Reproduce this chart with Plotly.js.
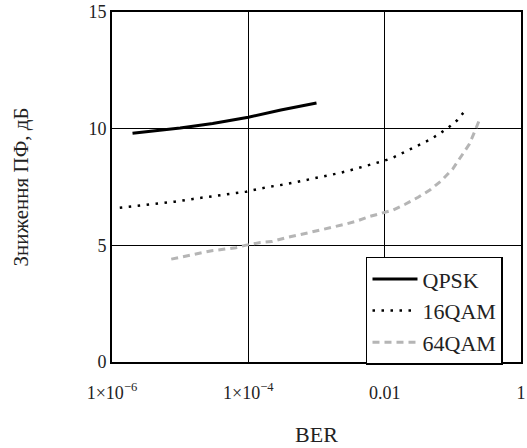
<!DOCTYPE html>
<html>
<head>
<meta charset="utf-8">
<script src="https://cdn.plot.ly/plotly-3.0.1.min.js"></script>
<style>
  html, body { margin: 0; padding: 0; background: #fff; }
  #chart { width: 527px; height: 448px; }
</style>
</head>
<body>
<div id="chart"></div>
<script>
// Power-penalty reduction vs. bit error rate for three modulation formats
const qpskBer = [2.0e-6, 5e-6, 1e-5, 3e-5, 1e-4, 3e-4, 1e-3];
const qpskVal = [9.80, 9.92, 10.03, 10.22, 10.49, 10.80, 11.10];

const qam16Ber = [1.3e-6, 2.5e-6, 4.6e-6, 8.3e-6, 1.55e-5, 2.9e-5, 5.4e-5, 9.3e-5,
                  1.86e-4, 3.4e-4, 6.3e-4, 1.17e-3, 2.1e-3, 2.9e-3, 5.4e-3, 7.4e-3,
                  0.01, 0.0135, 0.018, 0.025, 0.035, 0.047, 0.065, 0.087, 0.117, 0.151];
const qam16Val = [6.61, 6.70, 6.80, 6.87, 6.99, 7.09, 7.19, 7.30,
                  7.49, 7.61, 7.77, 7.92, 8.09, 8.19, 8.40, 8.51,
                  8.63, 8.77, 8.94, 9.16, 9.34, 9.54, 9.80, 10.06, 10.37, 10.77];

const qam64Ber = [7.4e-6, 1.23e-5, 1.9e-5, 2.9e-5, 4.3e-5, 6.6e-5, 9.3e-5, 1.5e-4, 2.2e-4,
                  3.6e-4, 7.6e-4, 1.17e-3, 1.74e-3, 2.6e-3, 3.9e-3, 5.9e-3, 8.9e-3,
                  0.0132, 0.02, 0.031, 0.046, 0.068, 0.1, 0.132, 0.174, 0.209, 0.245];
const qam64Val = [4.41, 4.54, 4.68, 4.77, 4.83, 4.90, 5.01, 5.12, 5.16,
                  5.33, 5.54, 5.66, 5.77, 5.90, 6.04, 6.23, 6.37,
                  6.51, 6.76, 7.06, 7.37, 7.77, 8.28, 8.80, 9.33, 9.87, 10.37];

const seriesNames = ['QPSK', '16QAM', '64QAM'];
const xTickVals = [1e-6, 1e-4, 0.01, 1];
const xTickText = ['1×10<sup>−6</sup>', '1×10<sup>−4</sup>', '0.01', '1'];
const yTickVals = [0, 5, 10, 15];

const serif = 'Liberation Serif, Times New Roman, serif';
const ink = '#222';

const traces = [
  { x: qpskBer, y: qpskVal, name: seriesNames[0], mode: 'lines',
    line: { color: '#000', width: 3 } },
  { x: qam16Ber, y: qam16Val, name: seriesNames[1], mode: 'lines',
    line: { color: '#000', width: 2.5, dash: '2.5px,6.5px' } },
  { x: qam64Ber, y: qam64Val, name: seriesNames[2], mode: 'lines',
    line: { color: '#b5b5b5', width: 3, dash: '7px,5px' } }
];

const layout = {
  width: 527, height: 448,
  margin: { l: 112, r: 6, t: 12, b: 86 },
  paper_bgcolor: '#fff', plot_bgcolor: '#fff',
  font: { family: serif, color: ink },
  showlegend: true,
  legend: {
    x: 0.621, y: 0.301, xanchor: 'left', yanchor: 'top',
    bgcolor: '#fff', bordercolor: '#000', borderwidth: 1.5,
    font: { family: serif, size: 22, color: ink },
    itemwidth: 45,
    tracegroupgap: 0
  },
  xaxis: {
    type: 'log', range: [-6, 0],
    tickvals: xTickVals, ticktext: xTickText,
    showgrid: true, gridcolor: '#000', gridwidth: 1.5,
    showline: true, mirror: true, linecolor: '#000', linewidth: 2,
    ticks: '', zeroline: false, ticklabelstandoff: 13,
    tickfont: { family: serif, size: 18, color: ink },
    title: { text: 'BER', font: { family: serif, size: 22, color: ink }, standoff: 25 }
  },
  yaxis: {
    range: [0, 15], tickvals: yTickVals,
    showgrid: true, gridcolor: '#000', gridwidth: 1.5,
    showline: true, mirror: true, linecolor: '#000', linewidth: 2,
    ticks: '', zeroline: false,
    tickfont: { family: serif, size: 18, color: ink },
    title: { text: 'Зниження ПФ, дБ', font: { family: serif, size: 21, color: ink }, standoff: 54 }
  }
};

Plotly.newPlot('chart', traces, layout, { staticPlot: true, displayModeBar: false });
</script>
</body>
</html>
